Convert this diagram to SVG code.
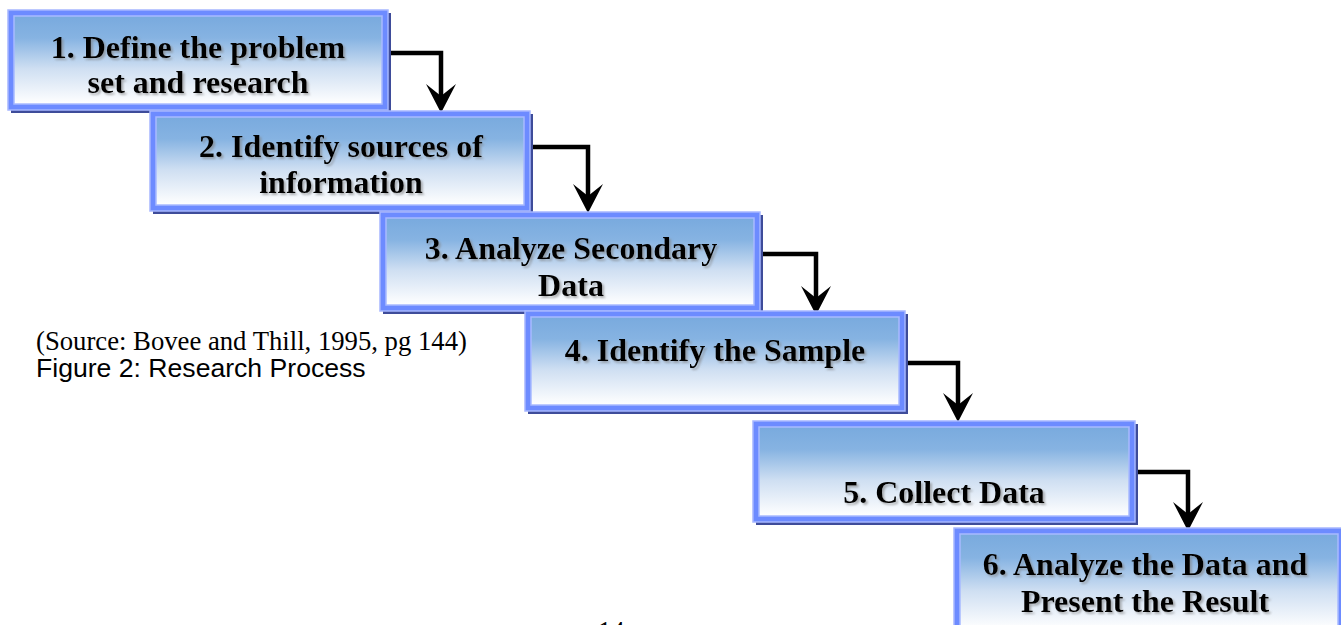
<svg xmlns="http://www.w3.org/2000/svg" width="1341" height="625" viewBox="0 0 1341 625">
  <defs>
    <linearGradient id="fillGrad" x1="0" y1="0" x2="0" y2="1">
      <stop offset="0" stop-color="#79aade"/>
      <stop offset="0.25" stop-color="#86b3e2"/>
      <stop offset="0.6" stop-color="#cfdff2"/>
      <stop offset="1" stop-color="#ffffff"/>
    </linearGradient>
    <filter id="txtShadow" x="-5%" y="-20%" width="110%" height="150%">
      <feDropShadow dx="2" dy="2" stdDeviation="0.8" flood-color="#808080" flood-opacity="0.6"/>
    </filter>
  </defs>
  <style>
    .shadow { fill: #3e4c9a; }
    .frame { fill: #6d8bff; stroke: #a6b7ff; stroke-width: 1.5; }
    .inner { fill: url(#fillGrad); stroke: #a8baff; stroke-width: 1.5; }
    .label { font-family: "Liberation Serif", "Times New Roman", serif; font-weight: bold; font-size: 32px; fill: #000; text-anchor: middle; filter: url(#txtShadow); }
    .conn { fill: none; stroke: #000; stroke-width: 4.5; stroke-linejoin: miter; }
    .head { fill: #000; }
    .src { font-family: "Liberation Serif", "Times New Roman", serif; font-size: 26.7px; fill: #000; }
    .fig { font-family: "Liberation Sans", Arial, sans-serif; font-size: 26.6px; fill: #000; }
  </style>

  <rect width="1341" height="625" fill="#ffffff"/>

  <!-- connectors: elbow lines from each step to the next -->
  <g id="connectors">
    <path class="conn" d="M385,53 H441 V98"/>
    <polygon class="head" points="441,113 426,84 441,96 456,84"/>
    <path class="conn" d="M527,147 H588 V198"/>
    <polygon class="head" points="588,213 573,184 588,196 603,184"/>
    <path class="conn" d="M757,254 H816 V300"/>
    <polygon class="head" points="816,315 801,286 816,298 831,286"/>
    <path class="conn" d="M902,363 H958 V407"/>
    <polygon class="head" points="958,422 943,393 958,405 973,393"/>
    <path class="conn" d="M1132,472 H1188 V516"/>
    <polygon class="head" points="1188,531 1173,502 1188,514 1203,502"/>
  </g>

  <g id="step1">
    <rect class="shadow" x="11" y="13" width="380" height="100"/>
    <rect class="frame" x="8" y="10" width="380" height="100"/>
    <rect class="inner" x="14" y="16" width="368" height="88"/>
    <text class="label" x="198" y="58">1. Define the problem</text>
    <text class="label" x="198" y="93">set and research</text>
  </g>

  <g id="step2">
    <rect class="shadow" x="153" y="114" width="380" height="100"/>
    <rect class="frame" x="150" y="111" width="380" height="100"/>
    <rect class="inner" x="156" y="117" width="368" height="88"/>
    <text class="label" x="341" y="157">2. Identify sources of</text>
    <text class="label" x="341" y="193">information</text>
  </g>

  <g id="step3">
    <rect class="shadow" x="383" y="215" width="380" height="99"/>
    <rect class="frame" x="380" y="212" width="380" height="99"/>
    <rect class="inner" x="386" y="218" width="368" height="87"/>
    <text class="label" x="571" y="259">3. Analyze Secondary</text>
    <text class="label" x="571" y="296">Data</text>
  </g>

  <g id="step4">
    <rect class="shadow" x="528" y="314" width="380" height="100"/>
    <rect class="frame" x="525" y="311" width="380" height="100"/>
    <rect class="inner" x="531" y="317" width="368" height="88"/>
    <text class="label" x="715" y="361">4. Identify the Sample</text>
  </g>

  <g id="step5">
    <rect class="shadow" x="756" y="424" width="382" height="101"/>
    <rect class="frame" x="753" y="421" width="382" height="101"/>
    <rect class="inner" x="759" y="427" width="370" height="89"/>
    <text class="label" x="944" y="503">5. Collect Data</text>
  </g>

  <g id="step6">
    <rect class="shadow" x="957" y="531" width="390" height="100"/>
    <rect class="frame" x="954" y="528" width="390" height="100"/>
    <rect class="inner" x="960" y="534" width="378" height="95"/>
    <text class="label" x="1145" y="575">6. Analyze the Data and</text>
    <text class="label" x="1145" y="612">Present the Result</text>
  </g>

  <g id="caption">
    <text class="src" x="36" y="350">(Source: Bovee and Thill, 1995, pg 144)</text>
    <text class="fig" x="36" y="377">Figure 2: Research Process</text>
  </g>

  <!-- page number, mostly below the bottom edge -->
  <text class="src" x="598" y="640">14</text>
</svg>
